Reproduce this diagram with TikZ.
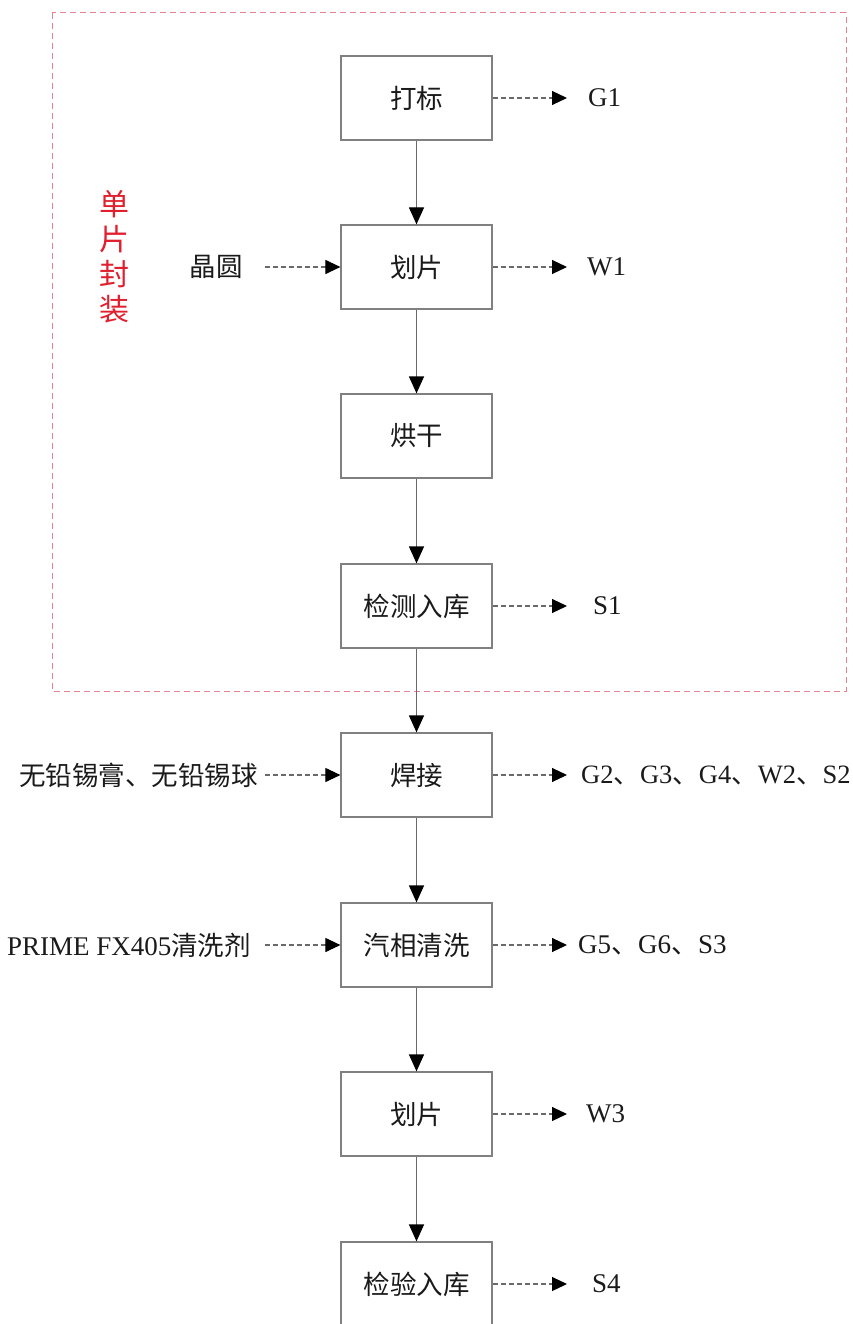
\documentclass[tikz,border=0pt]{standalone}
\usepackage{fontspec}
\setmainfont{Liberation Serif}
\newfontfamily\zhfam{Noto Sans CJK SC}
\usetikzlibrary{arrows.meta}
\definecolor{boxgray}{HTML}{808080}
\definecolor{linegray}{HTML}{6A6A6A}
\definecolor{txt}{HTML}{1A1A1A}
\definecolor{pkgred}{HTML}{E0202E}
\definecolor{pkgline}{HTML}{E58290}
\newcommand{\zhf}{\zhfam\fontsize{26.5}{30}\selectfont}
\newcommand{\latf}{\rmfamily\fontsize{27}{30}\selectfont}
\newcommand{\dun}{{\zhfam 、}}
\begin{document}
\begin{tikzpicture}[x=1pt,y=-1pt,
  proc/.style={draw=boxgray, line width=1.2pt, minimum width=151pt, minimum height=84pt, inner sep=0pt, font=\zhf, text=txt},
  outl/.style={font=\latf, text=txt, inner sep=0pt, anchor=west},
  inl/.style={font=\zhf, text=txt, inner sep=0pt, anchor=east},
  flow/.style={draw=linegray, line width=1.2pt, -{Triangle[length=17pt,width=15pt,color=black]}},
  side/.style={draw=linegray, line width=1.1pt, dash pattern=on 5pt off 3pt, -{Triangle[length=15pt,width=14pt,color=black]}}
]
\useasboundingbox (0,0) rectangle (853,1324);
\clip (0,0) rectangle (853,1324);

% package region
\draw[pkgline, line width=1pt, dash pattern=on 6pt off 4pt] (52,13) rectangle (846,691);
\node (pkg) at (114,257) [font=\zhfam\fontsize{30}{35}\selectfont, align=center, text=pkgred, inner sep=0pt] {单\\片\\封\\装};

% process boxes
\node[proc] (b1) at (416.5,98)   {打标};
\node[proc] (b2) at (416.5,267)  {划片};
\node[proc] (b3) at (416.5,436)  {烘干};
\node[proc] (b4) at (416.5,606)  {检测入库};
\node[proc] (b5) at (416.5,775)  {焊接};
\node[proc] (b6) at (416.5,945)  {汽相清洗};
\node[proc] (b7) at (416.5,1114) {划片};
\node[proc] (b8) at (416.5,1284) {检验入库};

\draw[flow] (b1) -- (b2);
\draw[flow] (b2) -- (b3);
\draw[flow] (b3) -- (b4);
\draw[flow] (b4) -- (b5);
\draw[flow] (b5) -- (b6);
\draw[flow] (b6) -- (b7);
\draw[flow] (b7) -- (b8);

% outputs
\coordinate (e1) at (567,98);
\coordinate (e2) at (567,267);
\coordinate (e4) at (567,606);
\coordinate (e5) at (567,775);
\coordinate (e6) at (567,945);
\coordinate (e7) at (567,1114);
\coordinate (e8) at (567,1284);
\draw[side] (b1.east) -- (e1);
\draw[side] (b2.east) -- (e2);
\draw[side] (b4.east) -- (e4);
\draw[side] (b5.east) -- (e5);
\draw[side] (b6.east) -- (e6);
\draw[side] (b7.east) -- (e7);
\draw[side] (b8.east) -- (e8);
\node[outl] (o1) at (588,98)   {G1};
\node[outl] (o2) at (587,267)  {W1};
\node[outl] (o4) at (593,606)  {S1};
\node[outl, font=\rmfamily\fontsize{26.5}{30}\selectfont] (o5) at (581,775)  {G2\dun G3\dun G4\dun W2\dun S2};
\node[outl] (o6) at (578,945)  {G5\dun G6\dun S3};
\node[outl] (o7) at (586,1114) {W3};
\node[outl] (o8) at (592,1284) {S4};

% inputs
\node[inl] (i2) at (243,267) {晶圆};
\node[inl] (i5) at (258,775) {无铅锡膏、无铅锡球};
\node[inl] (i6) at (251,945) {{\latf PRIME FX405}清洗剂};
\coordinate (s2) at (265,267);
\coordinate (s5) at (265,775);
\coordinate (s6) at (265,945);
\draw[side] (s2) -- (b2.west);
\draw[side] (s5) -- (b5.west);
\draw[side] (s6) -- (b6.west);
\end{tikzpicture}
\end{document}
